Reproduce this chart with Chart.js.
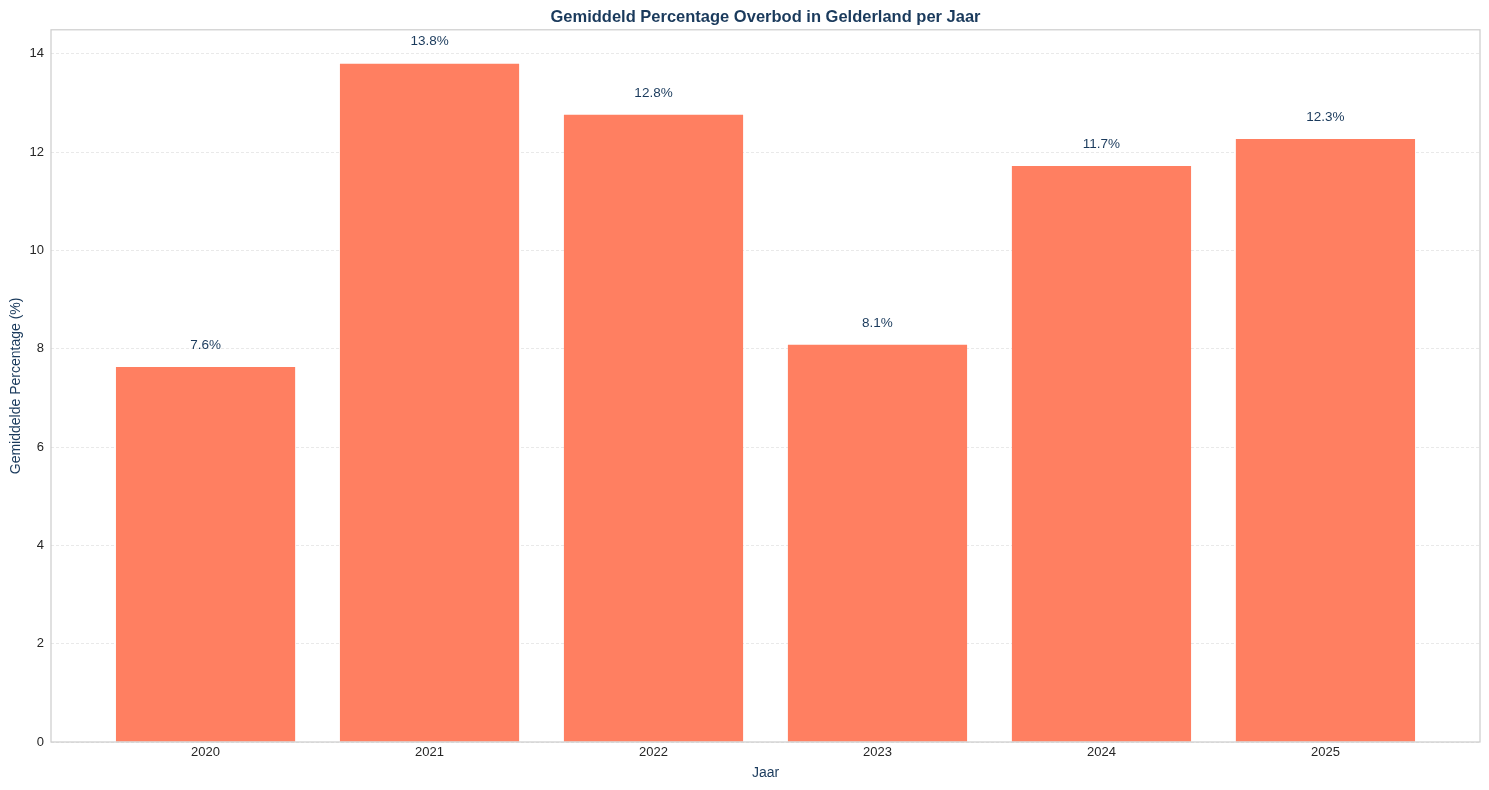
<!DOCTYPE html>
<html>
<head>
<meta charset="utf-8">
<script src="https://cdn.jsdelivr.net/npm/chart.js@4"></script>
<style>
  html, body { margin: 0; padding: 0; background: #fff; }
  #wrap { width: 1489px; height: 790px; }
</style>
</head>
<body>
<div id="wrap"><canvas id="grafico"></canvas></div>
<script>
var jaren = ['2020', '2021', '2022', '2023', '2024', '2025'];
var overbod = [7.63, 13.80, 12.76, 8.08, 11.72, 12.27];
var yTicks = [0, 2, 4, 6, 8, 10, 12, 14];

var navy = '#1a3a5c';
Chart.defaults.font.family = '"Liberation Sans", Arial, sans-serif';

// frame around the plot area, like matplotlib spines
var kader = {
    id: 'kader',
    afterDatasetsDraw: function (chart) {
        var a = chart.chartArea, ctx = chart.ctx;
        ctx.save();
        ctx.strokeStyle = '#cccccc';
        ctx.lineWidth = 1.2;
        ctx.strokeRect(a.left, a.top, a.right - a.left, a.bottom - a.top);
        ctx.restore();
    }
};

// percentage labels above the bars
var labels = {
    id: 'labels',
    afterDatasetsDraw: function (chart) {
        var ctx = chart.ctx;
        var meta = chart.getDatasetMeta(0);
        ctx.save();
        ctx.font = '13.5px "Liberation Sans", Arial, sans-serif';
        ctx.fillStyle = navy;
        ctx.textAlign = 'center';
        ctx.textBaseline = 'middle';
        meta.data.forEach(function (bar, i) {
            ctx.fillText(overbod[i].toFixed(1) + '%', bar.x, bar.y - 22);
        });
        ctx.restore();
    }
};

var punten = overbod.map(function (v, i) { return {x: i, y: v}; });

new Chart(document.getElementById('grafico').getContext('2d'), {
    type: 'bar',
    data: {
        datasets: [{
            data: punten,
            backgroundColor: '#ff7f61',
            borderWidth: 0,
            barPercentage: 1.0,
            categoryPercentage: 0.8
        }]
    },
    options: {
        responsive: true,
        maintainAspectRatio: false,
        animation: false,
        layout: { padding: { left: 0, right: 9, top: 0, bottom: 0 } },
        plugins: {
            legend: { display: false },
            tooltip: { enabled: false },
            title: {
                display: true,
                fullSize: false,
                text: 'Gemiddeld Percentage Overbod in Gelderland per Jaar',
                color: navy,
                font: { size: 16.5, weight: 'bold' },
                padding: { top: 8, bottom: 2 }
            }
        },
        scales: {
            x: {
                type: 'linear',
                offset: false,
                min: -0.69,
                max: 5.69,
                afterBuildTicks: function (s) {
                    s.ticks = jaren.map(function (_, i) { return {value: i}; });
                },
                afterFit: function (s) { s.height = 48; },
                ticks: {
                    color: '#262626',
                    font: { size: 13 },
                    padding: 3,
                    maxRotation: 0,
                    autoSkip: false,
                    callback: function (v) { return jaren[v]; }
                },
                grid: { display: false, drawTicks: false, offset: false },
                border: { display: false },
                title: {
                    display: true,
                    text: 'Jaar',
                    color: navy,
                    font: { size: 14 },
                    padding: { top: 4, bottom: 8 }
                }
            },
            y: {
                min: 0,
                max: 14.49,
                afterBuildTicks: function (s) {
                    s.ticks = yTicks.map(function (v) { return {value: v}; });
                },
                afterFit: function (s) { s.width = 51; },
                ticks: {
                    color: '#262626',
                    font: { size: 13 },
                    padding: 7
                },
                grid: {
                    color: '#e3e3e3',
                    lineWidth: 0.8,
                    drawTicks: false
                },
                border: { display: false, dash: [3, 2] },
                title: {
                    display: true,
                    text: 'Gemiddelde Percentage (%)',
                    color: navy,
                    font: { size: 14 },
                    padding: { top: 8, bottom: 6 }
                }
            }
        }
    },
    plugins: [kader, labels]
});
</script>
</body>
</html>
